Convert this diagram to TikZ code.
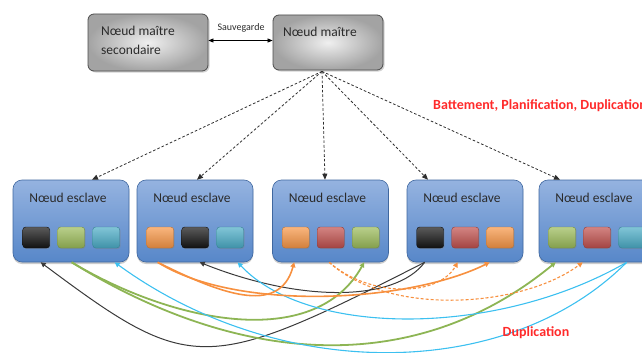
\documentclass[tikz,border=0pt]{standalone}
\usepackage{fontspec}
\setmainfont{Carlito}
\usetikzlibrary{arrows.meta,shadows,calc}

\definecolor{curveBlack}{HTML}{3A3A3A}
\definecolor{curveGreen}{HTML}{8DB554}
\definecolor{curveCyan}{HTML}{3CC0F0}
\definecolor{curveOrange}{HTML}{F7903F}
\definecolor{slaveTop}{HTML}{95B3E0}
\definecolor{slaveMid}{HTML}{4F80C4}
\definecolor{slaveBot}{HTML}{5787C9}
\definecolor{slaveEdge}{HTML}{3F679F}
\definecolor{sqBlack}{HTML}{141414}
\definecolor{sqGreen}{HTML}{9BBB59}
\definecolor{sqCyan}{HTML}{4BACC6}
\definecolor{sqOrange}{HTML}{F79646}
\definecolor{sqRed}{HTML}{C0504D}
\definecolor{noteRed}{HTML}{FF2A2A}
\definecolor{labelInk}{HTML}{2B2B2B}

\tikzset{
  masterbox/.style={draw=gray!60!black, line width=0.8pt, rounded corners=6pt,
    inner color=gray!12, outer color=gray!72,
    inner sep=0pt, drop shadow={shadow xshift=1.5pt, shadow yshift=-1.5pt, opacity=0.35}},
  slavebox/.style={draw=slaveEdge, line width=0.6pt, rounded corners=9pt,
    top color=slaveTop, middle color=slaveMid, bottom color=slaveBot,
    minimum width=116pt, minimum height=82pt,
    inner sep=0pt, drop shadow={shadow xshift=0pt, shadow yshift=-2pt, opacity=0.4}},
  chip/.style={rounded corners=3pt, minimum width=27pt, minimum height=21pt, inner sep=0pt,
    draw=#1!75!black, line width=0.4pt,
    top color=#1!70!white, middle color=#1, bottom color=#1!85!black,
    drop shadow={shadow xshift=1pt, shadow yshift=-1pt, opacity=0.35}},
  nodetext/.style={text=labelInk, font=\fontsize{13.5}{16}\selectfont, inner sep=0pt},
  note/.style={text=noteRed, font=\bfseries\fontsize{14}{16}\selectfont, inner sep=0pt},
  dispatch/.style={draw=gray!35!black, line width=0.8pt, dash pattern=on 2.6pt off 2pt,
    -{Triangle[length=6pt,width=5pt]}},
  link/.style={draw=#1, line width=1.3pt, -{Triangle[length=5pt,width=5pt]}},
}

\begin{document}
\begin{tikzpicture}[x=1pt,y=-1pt]
\useasboundingbox (0,0) rectangle (642,353);

% master nodes
\node[masterbox, minimum width=120pt, minimum height=57pt] (sec) at (148,42.5) {};
\node[masterbox, minimum width=110pt, minimum height=55pt] (mst) at (328,42.5) {};
\node[nodetext, anchor=west, align=left] (sect) at (101,40.5) {Nœud maître\\[3pt]secondaire};
\node[nodetext, anchor=west] (mstt) at (283,32) {Nœud maître};

% backup link
\draw[line width=0.7pt, {Triangle[length=5pt,width=4pt]}-{Triangle[length=5pt,width=4pt]}]
  ([yshift=2pt]sec.east) -- ([yshift=2pt]mst.west);
\node[text=labelInk, font=\fontsize{10}{11}\selectfont, inner sep=0pt] (save) at (241,28) {Sauvegarde};

% worker nodes
\foreach \n/\x in {1/71,2/195,3/330.5,4/465,5/597}{
  \node[slavebox] (e\n) at (\x,221) {};
  \node[nodetext] (t\n) at (\x-3,198) {Nœud esclave};
}

% data blocks held by each worker
\foreach \n/\ca/\cb/\cc in {1/sqBlack/sqGreen/sqCyan, 2/sqOrange/sqBlack/sqCyan,
    3/sqOrange/sqRed/sqGreen, 4/sqBlack/sqRed/sqOrange, 5/sqGreen/sqRed/sqCyan}{
  \node[chip=\ca] (s\n a) at ($(e\n.west)+(23.5,16.5)$) {};
  \node[chip=\cb] (s\n b) at ($(e\n.west)+(58.5,16.5)$) {};
  \node[chip=\cc] (s\n c) at ($(e\n.west)+(93.5,16.5)$) {};
}

% control messages from the master
\coordinate (hub) at ($(mst.south)+(-6,1)$);
\foreach \n/\dx in {1/21,2/2,3/-5.5,4/-37,5/-37}{
  \draw[dispatch] (hub) -- ($(e\n.north)+(\dx,0)$);
}
\node[note, anchor=west] (beat) at (433,106) {Battement, Planification, Duplication};

% end points of the replication links
\coordinate (b1k) at ($(e1.south west)+(28,0)$);
\coordinate (g1)  at ($(e1.south west)+(59,0)$);
\coordinate (c1)  at ($(e1.south west)+(102,0)$);
\coordinate (o2)  at ($(e2.south west)+(21,0)$);
\coordinate (b2k) at ($(e2.south west)+(63,0)$);
\coordinate (c2)  at ($(e2.south west)+(101,0)$);
\coordinate (o3)  at ($(e3.south west)+(22,0)$);
\coordinate (r3)  at ($(e3.south west)+(57,0)$);
\coordinate (g3)  at ($(e3.south west)+(92,0)$);
\coordinate (b4k) at ($(e4.south west)+(18,0)$);
\coordinate (r4)  at ($(e4.south west)+(51,0)$);
\coordinate (o4)  at ($(e4.south west)+(83,0)$);
\coordinate (g5)  at ($(e5.south west)+(17,0)$);
\coordinate (r5)  at ($(e5.south west)+(44,0)$);
\coordinate (c5)  at ($(e5.south west)+(88,0)$);

% replication links
\draw[link=curveBlack, line width=1pt] (b4k) .. controls +(-220,112) and +(150,112) .. (b1k);
\draw[link=curveBlack, line width=1pt] (b4k) .. controls +(-30,40) and +(100,40) .. (b2k);
\draw[link=curveGreen, line width=1.8pt] (g1) .. controls +(100,60) and +(-50,90) .. (g3);
\draw[link=curveGreen, line width=1.8pt] (g1) .. controls +(170,105) and +(-140,115) .. (g5);
\draw[link=curveCyan, line width=1.1pt] (c5) .. controls +(-120,120) and +(165,120) .. (c1);
\draw[link=curveCyan, line width=1.1pt] (c5) .. controls +(-130,75) and +(70,75) .. (c2);
\draw[link=curveOrange, line width=1.6pt] (o2) .. controls +(60,30) and +(-15,55) .. (o3);
\draw[link=curveOrange, line width=1.6pt] (o2) .. controls +(80,50) and +(-80,40) .. (o4);
\draw[link=curveOrange, line width=1.1pt, dash pattern=on 3pt off 2pt]
  (r3) .. controls +(40,35) and +(-20,35) .. (r4);
\draw[link=curveOrange, line width=1.1pt, dash pattern=on 3pt off 2pt]
  (r3) .. controls +(60,55) and +(-60,45) .. (r5);

\node[note] (dup) at (536,333) {Duplication};
\end{tikzpicture}
\end{document}
